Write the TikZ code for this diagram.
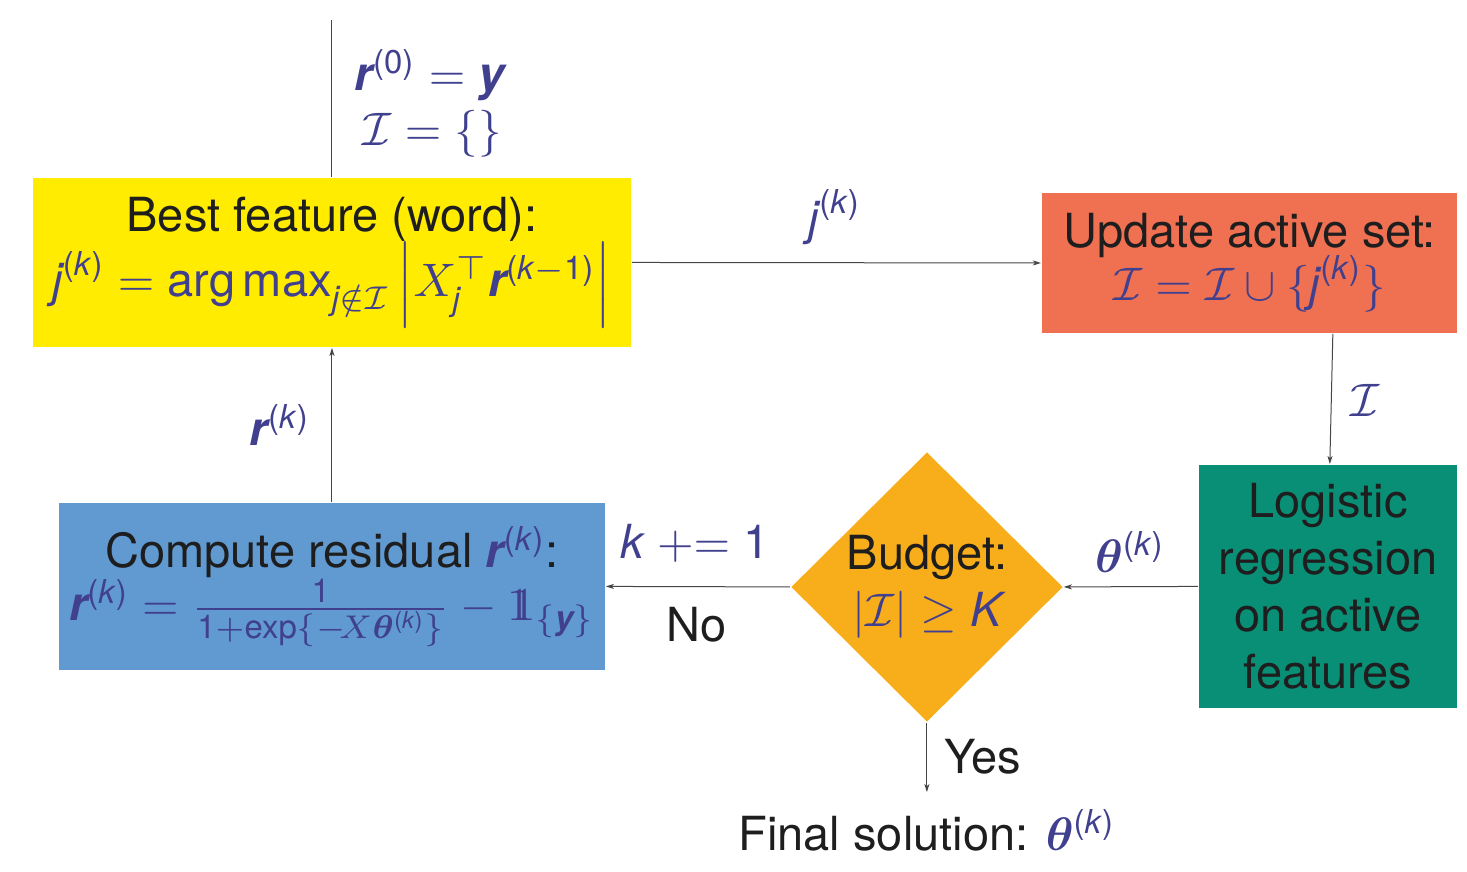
\documentclass[tikz,border=0pt]{standalone}
\usepackage{amsmath,bm}
\usepackage{fontspec}
\setmainfont{TeX Gyre Heros}
\newfontfamily\lmrfont{Latin Modern Roman}
\usetikzlibrary{shapes.geometric,arrows.meta,calc}
\definecolor{ybox}{RGB}{255,236,0}
\definecolor{rbox}{RGB}{240,112,82}
\definecolor{gbox}{RGB}{10,143,119}
\definecolor{bbox}{RGB}{96,154,208}
\definecolor{dbox}{RGB}{248,174,26}
\definecolor{mth}{RGB}{64,64,142}
\definecolor{txt}{RGB}{30,30,30}
\definecolor{lnc}{RGB}{70,70,70}
\newcommand{\fs}{\fontsize{10}{12.13}\selectfont\lineskiplimit=-50pt\lineskip=0pt}
\newcommand{\sv}[1]{\text{\normalfont\itshape #1}}
\newcommand{\bv}[1]{\text{\normalfont\bfseries\itshape #1}}
\newcommand{\sd}[1]{\text{\normalfont #1}}
\newcommand{\pk}{\text{\normalfont(\textit{k})}}
\newcommand{\dsone}{\text{\lmrfont\rlap{1}\kern0.11em 1}}
\newcommand{\M}[1]{{\color{mth}$#1$}}
\begin{document}
\begin{tikzpicture}[scale=4.7, transform shape, x=0.212766pt, y=-0.212766pt,
  every node/.style={font=\fs, text=txt},
  boxst/.style={rectangle, inner sep=0pt, align=center},
  conn/.style={draw=lnc, line width=1pt, -{Stealth[length=8pt,width=5pt,inset=2pt]}},
  plainln/.style={draw=lnc, line width=1pt},
  lab/.style={inner sep=0pt}
]
\useasboundingbox (0,0) rectangle (1467,872);

\node[boxst, fill=ybox, minimum width=127.23pt, minimum height=35.96pt] (best) at (332,262.5)
  {Best feature (word):\\[1.7pt]
   \M{\sv{j}^{\pk} = \mathop{\sd{arg\,max}}\nolimits_{\sv{j}\notin\mathcal{I}}\, \Bigl| X_{\sv{j}}^{\top} \bv{r}^{\sd{(\textit{k}}-\sd{1)}} \Bigr|}};

\node[boxst, fill=rbox, minimum width=88.30pt, minimum height=29.79pt] (update) at (1249.5,263)
  {Update active set:\\[-0.85pt]
   \M{\mathcal{I} = \mathcal{I} \cup \{\sv{j}^{\pk}\}}};

\node[boxst, fill=gbox, minimum width=54.89pt, minimum height=51.70pt] (logit) at (1328,586.5)
  {Logistic\\regression\\on active\\features};

\node[diamond, fill=dbox, minimum width=57.87pt, minimum height=57.45pt, inner sep=0pt, align=center] (budget) at (927,587)
  {Budget:\\ \M{|\mathcal{I}| \geq \sv{K}}};

\node[boxst, fill=bbox, minimum width=116.17pt, minimum height=35.53pt] (resid) at (332,586.5)
  {Compute residual \M{\bv{r}^{\pk}}:\\[-0.85pt]
   \M{\bv{r}^{\pk} = \frac{\sd{1}}{\sd{1}{+}\sd{exp}\{-\!X\boldsymbol{\theta}^{\pk}\}} - \dsone_{\{\bv{y}\}}}};

\node[lab] (final) at (927,830) {Final solution: \M{\boldsymbol{\theta}^{\pk}}};

\node[lab, align=left, anchor=west] (init) at (354,103)
  {\M{\bv{r}^{\sd{(0)}} = \bv{y}}\\[-0.43pt] \M{\,\mathcal{I} = \{\}}};
\node[lab] (lj) at (835,217) {\M{\sv{j}^{\pk}}};
\node[lab] (lI) at (1365,400) {\M{\mathcal{I}}};
\node[lab] (lth) at (1130,552) {\M{\boldsymbol{\theta}^{\pk}}};
\node[lab] (lk) at (695,543) {\M{\sv{k} \mathrel{+}\mathrel{=} \sd{1}}};
\node[lab] (lno) at (697,625) {No};
\node[lab] (lyes) at (983,757) {Yes};
\node[lab] (lr) at (280,425) {\M{\bv{r}^{\pk}}};

\coordinate (start) at (332,20);
\draw[plainln] (start) -- (best.north);
\draw[conn] (resid.north) -- (best.south);
\draw[conn] (best.east) -- (update.west);
\draw[conn] ($(update.south)+(83.5,0)$) -- ($(logit.north)+(2,0)$);
\draw[conn] (logit.west) -- (budget.east);
\draw[conn] (budget.west) -- (resid.east);
\draw[conn, shorten >=16pt] (budget.south) -- (final.north);
\end{tikzpicture}
\end{document}
